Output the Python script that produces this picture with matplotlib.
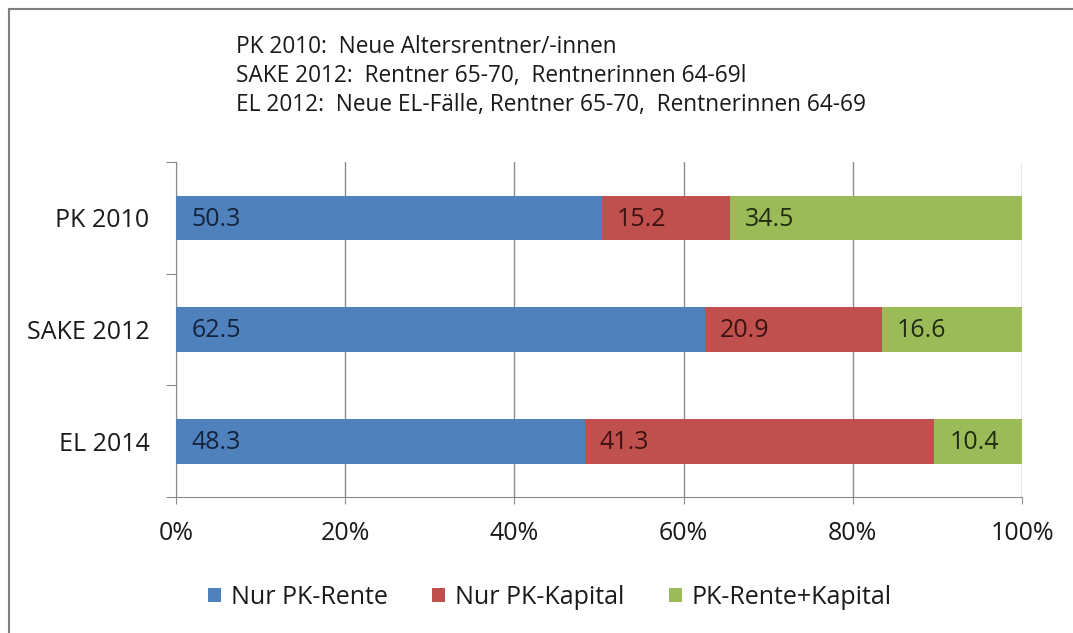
import matplotlib
matplotlib.use("Agg")
import matplotlib.pyplot as plt
from matplotlib.lines import Line2D
from matplotlib.ticker import FixedLocator, PercentFormatter

plt.rcParams['font.family'] = ['Open Sans', 'DejaVu Sans']

# data
categories = ["PK 2010", "SAKE 2012", "EL 2014"]
series_names = ["Nur PK-Rente", "Nur PK-Kapital", "PK-Rente+Kapital"]
nur_rente = [50.3, 62.5, 48.3]
nur_kapital = [15.2, 20.9, 41.3]
rente_kapital = [34.5, 16.6, 10.4]
notes = [
    "PK 2010:  Neue Altersrentner/-innen",
    "SAKE 2012:  Rentner 65-70,  Rentnerinnen 64-69l",
    "EL 2012:  Neue EL-Fälle, Rentner 65-70,  Rentnerinnen 64-69",
]

colors = ["#4F81BD", "#C0504D", "#9BBB59"]
label_colors = ["#14233d", "#3d1212", "#1f2b10"]
txt = "#1a1a1a"
grid_c = "#8c8c8c"

fig = plt.figure(figsize=(10.73, 6.33), dpi=100)
ax = fig.add_axes([176 / 1073, 1 - 497 / 633, 846 / 1073, 335 / 633])

ypos = list(range(len(categories)))
left = [0.0] * len(categories)
for vals, name, col, lcol in zip([nur_rente, nur_kapital, rente_kapital],
                                 series_names, colors, label_colors):
    bars = ax.barh(ypos, vals, left=left, height=0.4, color=col, label=name, zorder=3)
    for b, v in zip(bars, vals):
        ax.annotate(f"{v:.1f}", (b.get_x(), b.get_y() + b.get_height() / 2),
                    xytext=(11, -1), textcoords="offset points",
                    va="center", ha="left", fontsize=18, color=lcol, zorder=4)
    left = [l + v for l, v in zip(left, vals)]

ax.set_xlim(0, 100)
ax.set_ylim(2.5, -0.5)
ax.xaxis.set_major_locator(FixedLocator([0, 20, 40, 60, 80, 100]))
ax.xaxis.set_major_formatter(PercentFormatter(decimals=0))
ax.grid(axis="x", color=grid_c, linewidth=1, zorder=0)

# category boundaries as ticks, labels in between
ax.yaxis.set_major_locator(FixedLocator([-0.5, 0.5, 1.5, 2.5]))
ax.yaxis.set_major_formatter(plt.NullFormatter())
ax.yaxis.set_minor_locator(FixedLocator(ypos))
ax.set_yticklabels(categories, minor=True)
ax.tick_params(axis="y", which="major", length=7, color=grid_c, direction="out")
ax.tick_params(axis="y", which="minor", length=0, pad=19, labelsize=18, labelcolor=txt)
ax.tick_params(axis="x", length=5, color=grid_c, direction="out", pad=12,
               labelsize=18, labelcolor=txt)

for s in ["top", "right"]:
    ax.spines[s].set_visible(False)
for s in ["left", "bottom"]:
    ax.spines[s].set_color(grid_c)

for i, line in enumerate(notes):
    fig.text(236 / 1073, 1 - (47 + 29 * i) / 633, line, fontsize=16.3,
             va="center", ha="left", color=txt)

fig.legend(loc="center", bbox_to_anchor=(550 / 1073, 1 - 597 / 633), ncol=3,
           frameon=False, fontsize=18, handlelength=0.5, handleheight=0.5,
           handletextpad=0.4, columnspacing=1.8, labelcolor=txt)

# chart frame: only the top and left edges are visible in the crop
fig.add_artist(Line2D([9 / 1073, 1], [1 - 9 / 633, 1 - 9 / 633],
                      transform=fig.transFigure, color="#7f7f7f", linewidth=1.5))
fig.add_artist(Line2D([9 / 1073, 9 / 1073], [0, 1 - 9 / 633],
                      transform=fig.transFigure, color="#7f7f7f", linewidth=1.5))

fig.savefig("out.png", dpi=100)
